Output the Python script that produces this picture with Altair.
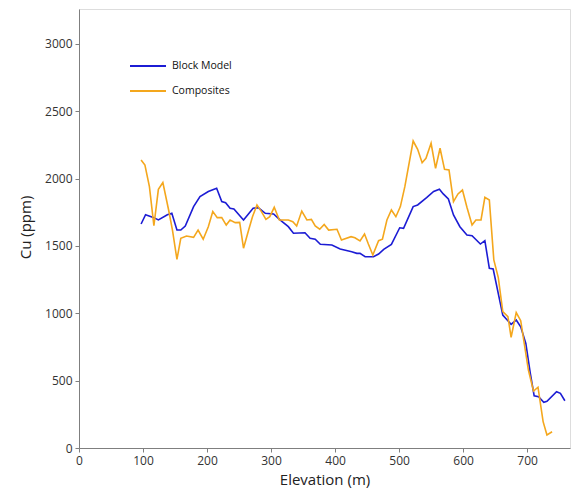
import altair as alt
import pandas as pd

bm_elev = [97, 104, 116, 124, 138, 145, 153, 159, 166, 179, 189, 202, 215, 223, 229, 236, 242, 257,
           272, 280, 291, 304, 314, 327, 335, 353, 361, 369, 377, 395, 408, 426, 434, 439, 447, 460,
           468, 476, 488, 501, 507, 522, 529, 543, 554, 563, 569, 577, 585, 595, 606, 614, 627, 634,
           641, 647, 662, 675, 683, 690, 698, 705, 711, 718, 726, 731, 746, 752, 759]
bm_cu = [1663, 1732, 1712, 1693, 1732, 1742, 1618, 1618, 1648, 1792, 1866, 1904, 1928, 1829, 1821,
         1780, 1774, 1693, 1780, 1784, 1742, 1737, 1693, 1643, 1594, 1598, 1557, 1550, 1512, 1507,
         1477, 1457, 1445, 1445, 1420, 1420, 1440, 1475, 1512, 1635, 1631, 1792, 1804, 1858, 1904,
         1921, 1886, 1849, 1730, 1643, 1581, 1576, 1514, 1539, 1334, 1329, 987, 918, 950, 900, 777,
         554, 388, 381, 339, 347, 418, 406, 351]

comp_elev = [97, 103, 110, 117, 124, 131, 140, 146, 153, 159, 168, 179, 186, 194, 202, 209, 216, 223,
             230, 236, 244, 251, 257, 265, 271, 278, 285, 292, 298, 305, 313, 327, 334, 340, 348, 356,
             363, 369, 376, 383, 390, 403, 410, 425, 431, 439, 446, 452, 459, 468, 474, 481, 488, 495,
             502, 509, 522, 529, 536, 542, 550, 557, 564, 571, 578, 585, 592, 599, 606, 614, 620, 628,
             634, 641, 648, 655, 662, 670, 675, 683, 690, 702, 710, 717, 725, 731, 739]
comp_cu = [2138, 2101, 1940, 1650, 1920, 1970, 1767, 1618, 1400, 1557, 1574, 1564, 1618, 1550, 1643,
           1755, 1710, 1710, 1655, 1693, 1673, 1675, 1483, 1618, 1717, 1804, 1755, 1697, 1717, 1787,
           1693, 1693, 1680, 1648, 1759, 1693, 1697, 1648, 1624, 1660, 1618, 1624, 1544, 1569, 1561,
           1537, 1589, 1514, 1433, 1539, 1550, 1693, 1767, 1717, 1792, 1940, 2279, 2217, 2118, 2151,
           2262, 2076, 2225, 2069, 2064, 1829, 1886, 1915, 1787, 1655, 1693, 1693, 1861, 1841, 1396,
           1265, 1012, 975, 822, 1005, 945, 579, 423, 451, 196, 97, 121]

series_names = ["Block Model", "Composites"]
series_colors = ["#1c1cd4", "#f4a71d"]
x_ticks = [0, 100, 200, 300, 400, 500, 600, 700]
y_ticks = [0, 500, 1000, 1500, 2000, 2500, 3000]

df = pd.concat([
    pd.DataFrame({"Elevation": bm_elev, "Cu": bm_cu, "Series": series_names[0], "order": range(len(bm_elev))}),
    pd.DataFrame({"Elevation": comp_elev, "Cu": comp_cu, "Series": series_names[1], "order": range(len(comp_elev))}),
])

FONT = "Open Sans"

chart = alt.Chart(df).mark_line(strokeWidth=1.6).encode(
    x=alt.X("Elevation:Q", title="Elevation (m)",
            scale=alt.Scale(domain=[0, 767], nice=False, zero=False),
            axis=alt.Axis(values=x_ticks, format="d", grid=False, domainColor="#7f7f7f", tickColor="#7f7f7f",
                          tickSize=4, labelFontSize=12, labelColor="#333333", labelFont=FONT,
                          labelFlush=False,
                          titleFont=FONT, titleFontSize=15, titleFontWeight="normal",
                          titleColor="#222222", titlePadding=6, labelPadding=3)),
    y=alt.Y("Cu:Q", title="Cu (ppm)",
            scale=alt.Scale(domain=[0, 3259], nice=False),
            axis=alt.Axis(values=y_ticks, format="d", grid=False, domainColor="#7f7f7f", tickColor="#7f7f7f",
                          tickSize=4, labelFontSize=12, labelColor="#333333", labelFont=FONT,
                          labelFlush=False,
                          titleFont=FONT, titleFontSize=15, titleFontWeight="normal",
                          titleColor="#222222", titleX=-46, titleY=218, labelPadding=3)),
    color=alt.Color("Series:N",
                    scale=alt.Scale(domain=series_names, range=series_colors),
                    legend=alt.Legend(title=None, orient="none", legendX=50, legendY=38,
                                      symbolType="stroke", symbolSize=1296, symbolStrokeWidth=2,
                                      labelFont=FONT, labelFontSize=10.5, labelColor="#111111",
                                      labelOffset=5, rowPadding=0)),
    order="order:Q",
).properties(
    width=491, height=439,
    padding={"left": 79, "top": 9, "right": 2, "bottom": 48},
    autosize=alt.AutoSizeParams(type="none"),
).configure_view(stroke=None).configure(background="white")

chart.save("out.html", embed_options={"renderer": "svg", "actions": False})
